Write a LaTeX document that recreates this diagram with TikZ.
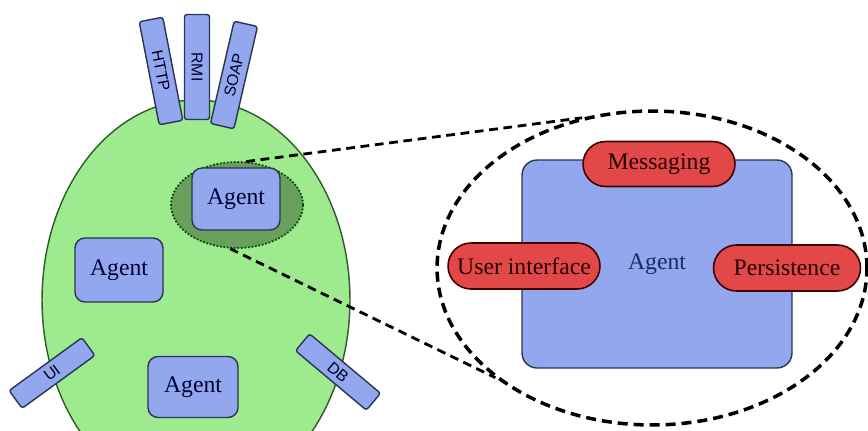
\documentclass[tikz,border=0pt]{standalone}
\usepackage{fontspec}
\setmainfont{Liberation Serif}
\newfontfamily\tabfont{Liberation Sans}
\usetikzlibrary{shapes.geometric,shapes.misc}
\definecolor{cellGreen}{HTML}{9DEB8E}
\definecolor{cellEdge}{HTML}{2F5A2A}
\definecolor{focusGreen}{HTML}{6A9E5C}
\definecolor{agentBlue}{HTML}{93A7EE}
\definecolor{pillRed}{HTML}{E24848}
\definecolor{edgeNavy}{HTML}{2B3450}
\definecolor{textNavy}{HTML}{1E2A66}

\begin{document}
\begin{tikzpicture}[x=0.02cm, y=-0.02cm,
  agentbox/.style={draw=edgeNavy, fill=agentBlue, line width=0.8pt, rounded corners=0.2cm,
    minimum width=1.76cm, minimum height=1.24cm, font=\fontsize{13.5}{16}\selectfont, text=black!80!blue},
  tabbox/.style={draw=edgeNavy, fill=agentBlue, line width=0.8pt, rounded corners=0.05cm,
    inner sep=0pt, font=\tabfont\fontsize{9}{10}\selectfont, text=black!85!blue},
  pill/.style={draw=black!75!red, fill=pillRed, line width=0.9pt, rounded rectangle,
    inner sep=0pt, minimum height=0.92cm, font=\fontsize{13.5}{16}\selectfont, text=black!85!red},
  link/.style={line width=1.6pt, dash pattern=on 5pt off 3.2pt}]
  \useasboundingbox (0,0) rectangle (868,430);
  \clip (0,0) rectangle (868,430);

  % the platform
  \node[ellipse, draw=cellEdge, fill=cellGreen, line width=0.8pt, inner sep=0pt,
    minimum width=6.16cm, minimum height=8cm] (cell) at (196,300) {};

  \node[tabbox, minimum width=2.1cm, minimum height=0.48cm, rotate=-79] (http) at (161,71) {HTTP};
  \node[tabbox, minimum width=2.1cm, minimum height=0.5cm, rotate=-90] (rmi) at (197,67) {RMI};
  \node[tabbox, minimum width=2.1cm, minimum height=0.48cm, rotate=77] (soap) at (234,75) {SOAP};
  \node[tabbox, minimum width=1.8cm, minimum height=0.44cm, rotate=36] (ui) at (52,373) {UI};
  \node[tabbox, minimum width=1.85cm, minimum height=0.44cm, rotate=-40] (db) at (338,372) {DB};

  \node[ellipse, draw=black!70!green, fill=focusGreen, densely dotted, line width=1pt,
    inner sep=0pt, minimum width=2.64cm, minimum height=1.72cm] (focus) at (237,205) {};

  \node[agentbox] (agentA) at (236,199) {Agent};
  \node[agentbox, minimum height=1.28cm] (agentB) at (119,270) {Agent};
  \node[agentbox, minimum width=1.8cm, minimum height=1.22cm] (agentC) at (193,387) {Agent};

  % zoomed view
  \node[ellipse, draw, line width=2pt, dash pattern=on 5.7pt off 3.4pt, inner sep=0pt,
    minimum width=8.6cm, minimum height=6.28cm] (zoom) at (652,268) {};

  \draw[link] (focus.78) -- (zoom.115);
  \draw[link] (focus.261) -- (zoom.215);

  \node[draw=edgeNavy, fill=agentBlue, line width=0.8pt, rounded corners=0.3cm,
    minimum width=5.4cm, minimum height=4.16cm, font=\fontsize{13.5}{16}\selectfont,
    text=textNavy] (agent) at (657,264) {Agent};
  \node[pill, minimum width=3.04cm, minimum height=0.9cm] (msg) at (659,164) {Messaging};
  \node[pill, minimum width=3.04cm] (uiface) at (524,266) {User interface};
  \node[pill, minimum width=2.94cm] (persist) at (787,268) {Persistence};
\end{tikzpicture}
\end{document}
